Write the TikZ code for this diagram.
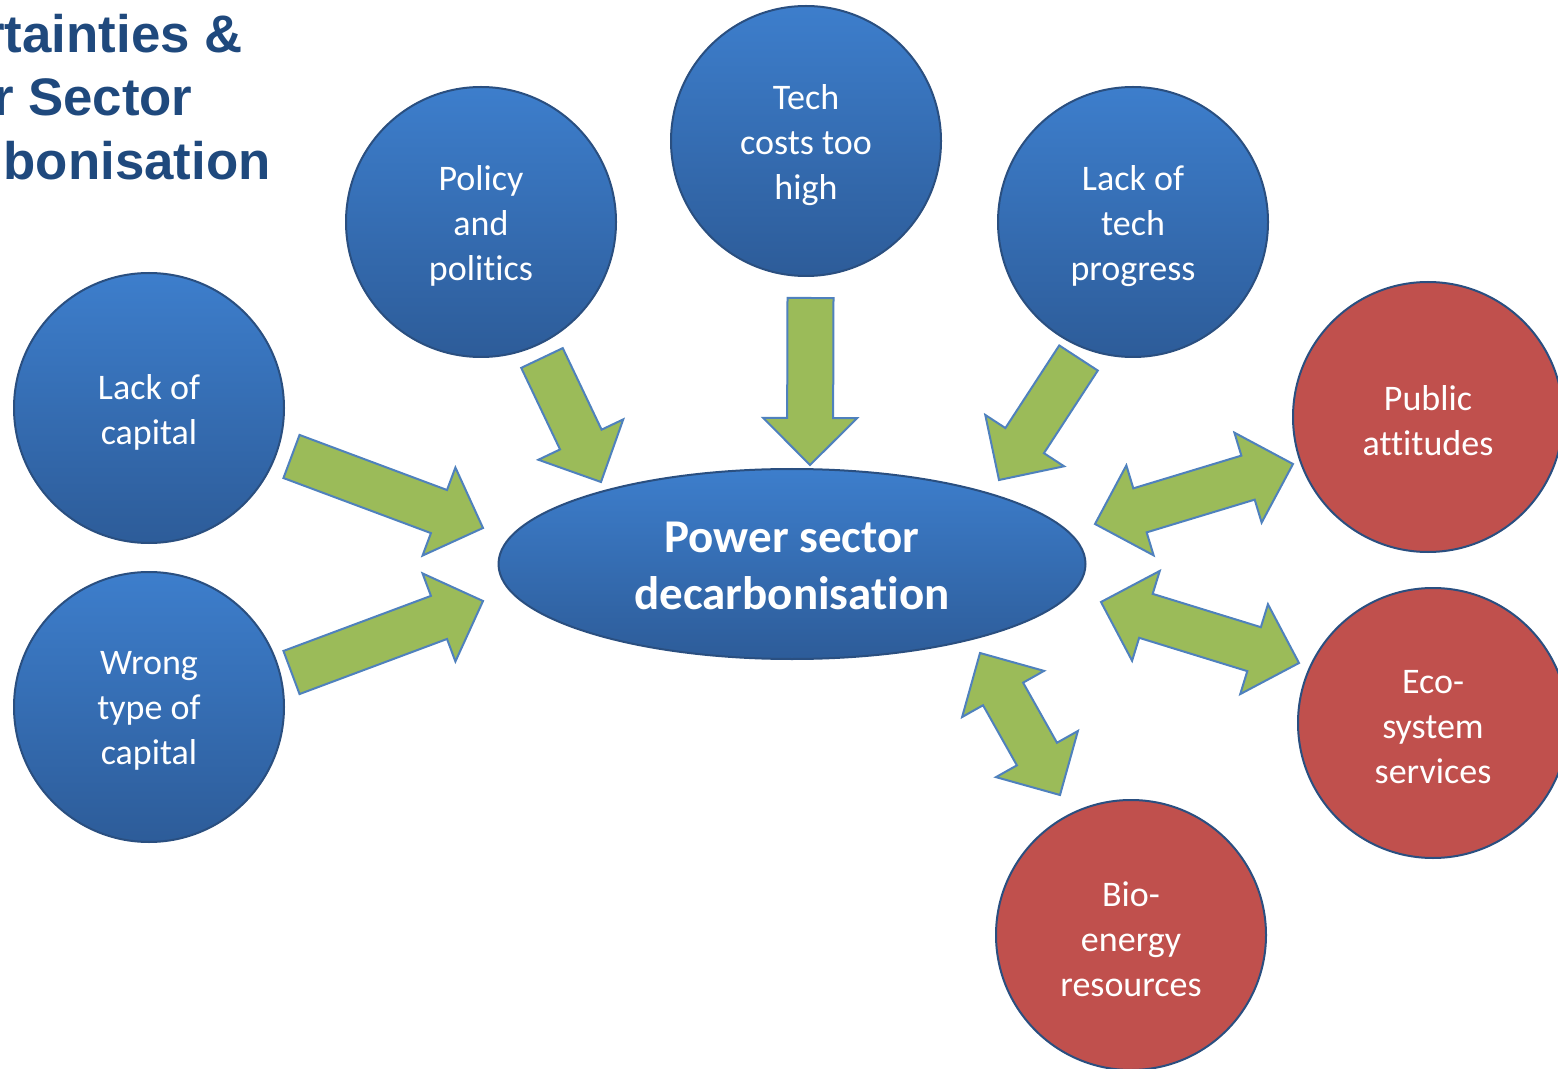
\documentclass[tikz,border=0pt]{standalone}
\usepackage{fontspec}
\usetikzlibrary{calc,shapes.geometric}
\newfontfamily\carl[Ligatures={NoCommon}]{Carlito}
\newfontfamily\ttlfont{Liberation Sans}
\definecolor{cblueT}{HTML}{3D7ECC}
\definecolor{cblueB}{HTML}{2D5C99}
\definecolor{cborder}{HTML}{2A4F80}
\definecolor{cred}{HTML}{C0504D}
\definecolor{cgreen}{HTML}{9BBB59}
\definecolor{cgstroke}{HTML}{4F81BD}
\definecolor{ctitle}{HTML}{1F497D}
\newcommand{\arrW}{11.5pt}
\newcommand{\arrH}{23.5pt}
\newcommand{\arrL}{23.5pt}
\newcommand{\sarrow}[2]{%
  \coordinate (tmpC) at ($(#2)!\arrL!(#1)$);
  \filldraw[blockarrow] ($(#1)!\arrW!90:(#2)$) -- ($(tmpC)!\arrW!90:(#2)$) -- ($(tmpC)!\arrH!90:(#2)$) -- (#2) -- ($(tmpC)!\arrH!-90:(#2)$) -- ($(tmpC)!\arrW!-90:(#2)$) -- ($(#1)!\arrW!-90:(#2)$) -- cycle;}
\newcommand{\darrow}[2]{%
  \coordinate (tmpP) at ($(#1)!\arrL!(#2)$);
  \coordinate (tmpQ) at ($(#2)!\arrL!(#1)$);
  \filldraw[blockarrow] (#1) -- ($(tmpP)!\arrH!90:(#2)$) -- ($(tmpP)!\arrW!90:(#2)$) -- ($(tmpQ)!\arrW!90:(#2)$) -- ($(tmpQ)!\arrH!90:(#2)$) -- (#2) -- ($(tmpQ)!\arrH!-90:(#2)$) -- ($(tmpQ)!\arrW!-90:(#2)$) -- ($(tmpP)!\arrW!-90:(#2)$) -- ($(tmpP)!\arrH!-90:(#2)$) -- cycle;}
\tikzset{
  bubble/.style={circle, draw=cborder, line width=1pt, minimum size=135pt, inner sep=0pt},
  bluebubble/.style={bubble, top color=cblueT, bottom color=cblueB},
  redbubble/.style={bubble, fill=cred},
  btext/.style={align=center, text=white, inner sep=0pt, yshift=-2pt,
     font=\carl\fontsize{18}{22.5}\selectfont},
  hubnode/.style={ellipse, draw=cborder, line width=1pt, minimum width=293.5pt, minimum height=95pt,
     inner sep=0pt, top color=cblueT, bottom color=cblueB},
  hubtext/.style={align=center, text=white, inner sep=0pt, yshift=-1pt,
     font=\carl\bfseries\fontsize{23.5}{28.5}\selectfont},
  blockarrow/.style={fill=cgreen, draw=cgstroke, line width=1pt, line join=miter},
  ttl/.style={anchor=base east, text=ctitle, inner sep=0pt, font=\ttlfont\bfseries\fontsize{26.4}{31.5}\selectfont}
}
\begin{document}
\begin{tikzpicture}[x=0.5pt,y=-0.5pt]
\useasboundingbox (0,0) rectangle (1558,1069);
\clip (0,0) rectangle (1558,1069);
\fill[white] (0,0) rectangle (1558,1069);
% title
\node[ttl] (t1) at (243,53) {rtainties \&};
\node[ttl] (t2) at (193,116) {r Sector};
\node[ttl] (t3) at (271,180) {bonisation};
% nodes
\node[hubnode] (hub) at (792,564) {};
\node[hubtext] (hubT) at (hub) {Power sector\\decarbonisation};
\node[bluebubble] (policy) at (481,222) {};
\node[btext] (policyT) at (policy) {Policy\\and\\politics};
\node[bluebubble] (cost) at (806,141) {};
\node[btext] (costT) at (cost) {Tech\\costs too\\high};
\node[bluebubble] (prog) at (1133,222) {};
\node[btext] (progT) at (prog) {Lack of\\tech\\progress};
\node[bluebubble] (cap) at (149,408) {};
\node[btext] (capT2) at (cap) {Lack of\\capital};
\node[bluebubble] (wrong) at (149,707) {};
\node[btext] (wrongT) at (wrong) {Wrong\\type of\\capital};
\node[redbubble] (public) at (1428,417) {};
\node[btext] (publicT) at (public) {Public\\attitudes};
\node[redbubble] (eco) at (1433,723) {};
\node[btext] (ecoT) at (eco) {Eco-\\system\\services};
\node[redbubble] (bio) at (1131,935) {};
\node[btext] (bioT) at (bio) {Bio-\\energy\\resources};
% arrow end points
\coordinate (capT) at (291.5,456.5);  \coordinate (capH) at (483,528);
\coordinate (polT) at (542,358);      \coordinate (polH) at (601,482);
\coordinate (cosT) at (810.5,298);    \coordinate (cosH) at (810,465);
\coordinate (proT) at (1078.5,358);   \coordinate (proH) at (999,480);
\coordinate (wroT) at (291.5,672.5);  \coordinate (wroH) at (483,601);
\coordinate (pubA) at (1095,524);     \coordinate (pubB) at (1293,464);
\coordinate (ecoA) at (1101,602);     \coordinate (ecoB) at (1299,663);
\coordinate (bioA) at (980,653);      \coordinate (bioB) at (1060,795);
\sarrow{capT}{capH}
\sarrow{polT}{polH}
\sarrow{cosT}{cosH}
\sarrow{proT}{proH}
\sarrow{wroT}{wroH}
\darrow{pubA}{pubB}
\darrow{ecoA}{ecoB}
\darrow{bioA}{bioB}
\end{tikzpicture}
\end{document}
